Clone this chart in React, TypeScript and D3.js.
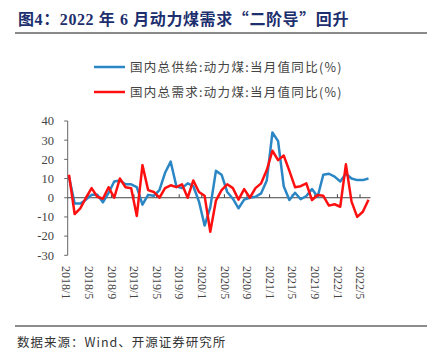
import React from "react";
import * as d3 from "d3";

const months = [
  "2018/1","2018/2","2018/3","2018/4","2018/5","2018/6","2018/7","2018/8","2018/9","2018/10","2018/11","2018/12",
  "2019/1","2019/2","2019/3","2019/4","2019/5","2019/6","2019/7","2019/8","2019/9","2019/10","2019/11","2019/12",
  "2020/1","2020/2","2020/3","2020/4","2020/5","2020/6","2020/7","2020/8","2020/9","2020/10","2020/11","2020/12",
  "2021/1","2021/2","2021/3","2021/4","2021/5","2021/6","2021/7","2021/8","2021/9","2021/10","2021/11","2021/12",
  "2022/1","2022/2","2022/3","2022/4","2022/5","2022/6",
];

const supply = [
  11, -3, -3, -1, 1.5, 1.5, -2.4, 2.5, 8.5, 9, 7, 7,
  5.5, -3.6, 1.5, 1, 4, 13, 18.8, 6, 5, 7.5, 6, -2,
  -14.5, -5, 14, 12, 3, -0.5, -5.5, -1, 0, 0.5, 2.3, 9,
  34, 29.5, 6, -1.2, 2.6, -0.8, 0.9, 4.5, 0.5, 12, 12.5, 11,
  8.5, 12.5, 10, 9.2, 9.2, 10,
];

const demand = [
  12, -8.5, -5.5, 0, 5, 0.5, -0.5, 5.5, 0, 10, 5.5, 5,
  -9.5, 17, 4, 3, 0, 5, 6.5, 5.5, 7, 0, 9, 3,
  1, -17.7, -1.5, 4, 7, 5, -1, 4.5, 0, 5, 7.5, 14.4,
  24.5, 19.6, 22, 14, 5.5, 6, 7.5, -1.2, 1.4, 1, -4.1, -3.4,
  -4.7, 17.4, -2, -10, -7.3, -1,
];

const xTickLabels = [
  "2018/1","2018/5","2018/9","2019/1","2019/5","2019/9","2020/1",
  "2020/5","2020/9","2021/1","2021/5","2021/9","2022/1","2022/5",
];
const yTicks = [40, 30, 20, 10, 0, -10, -20, -30];

const seriesNames = [
  "国内总供给:动力煤:当月值同比(%)",
  "国内总需求:动力煤:当月值同比(%)",
];
const BLUE = "#2a86c4";
const RED = "#ff1010";

export default function App() {
  const W = 433, H = 355;
  const x = d3.scaleLinear().domain([0, months.length - 1]).range([69, 368.5]);
  const y = d3.scaleLinear().domain([-30, 40]).range([255.3, 121]);
  const axisX = 67.7;
  const line = d3
    .line<number>()
    .x((_, i) => x(i))
    .y((d) => y(d));
  const serif = "'Liberation Serif', 'Noto Sans CJK SC', serif";
  const cjk = "'Noto Sans CJK SC', 'Liberation Serif', serif";

  return (
    <svg
      width={W}
      height={H}
      style={{ position: "absolute", left: 0, top: 0, background: "#fff" }}
    >
      <rect x={0} y={0} width={W} height={H} fill="#fff" />
      {/* title */}
      <text
        x={18}
        y={25}
        fontFamily={serif}
        fontWeight="bold"
        fontSize={16}
        fill="#1d2f6e"
        letterSpacing={0.6}
      >
        图4：2022 年 6 月动力煤需求<tspan fontFamily={cjk}>“</tspan>二阶导<tspan fontFamily={cjk}>”</tspan>回升
      </text>
      <line x1={15} x2={427} y1={33} y2={33} stroke="#8a8a8a" strokeWidth={2} />

      {/* legend */}
      {seriesNames.map((n, k) => (
        <g key={n}>
          <line
            x1={94}
            x2={125}
            y1={67 + k * 25}
            y2={67 + k * 25}
            stroke={k === 0 ? BLUE : RED}
            strokeWidth={2.5}
          />
          <text
            x={130}
            y={67 + k * 25}
            dy="0.36em"
            fontFamily={cjk}
            fontSize={12.5}
            fill="#444"
            letterSpacing={1.3}
          >
            {n}
          </text>
        </g>
      ))}

      {/* y axis */}
      <line x1={axisX} x2={axisX} y1={y(-30)} y2={y(40)} stroke="#666" strokeWidth={1} />
      {yTicks.map((t) => (
        <g key={t}>
          <line x1={axisX - 3.5} x2={axisX} y1={y(t)} y2={y(t)} stroke="#666" strokeWidth={1} />
          <text
            x={54}
            y={y(t)}
            dy="0.35em"
            textAnchor="end"
            fontFamily={serif}
            fontSize={12.5}
            fill="#444"
          >
            {t}
          </text>
        </g>
      ))}

      {/* zero line */}
      <line x1={axisX} x2={370.5} y1={y(0)} y2={y(0)} stroke="#444" strokeWidth={1} />
      {xTickLabels.map((lab) => {
        const i = months.indexOf(lab);
        if (i <= 0) return null;
        const tx = x(i - 0.5);
        return (
          <line key={"t" + lab} x1={tx} x2={tx} y1={y(0)} y2={y(0) - 3.5} stroke="#444" strokeWidth={1} />
        );
      })}

      {/* series */}
      <path d={line(supply) || ""} fill="none" stroke={BLUE} strokeWidth={2.5} strokeLinejoin="round" />
      <path d={line(demand) || ""} fill="none" stroke={RED} strokeWidth={2.5} strokeLinejoin="round" />

      {/* x labels */}
      {xTickLabels.map((lab) => {
        const i = months.indexOf(lab);
        const lx = x(i) - 2.5;
        return (
          <text
            key={lab}
            transform={`translate(${lx},266) rotate(90)`}
            dy="0.35em"
            fontFamily={serif}
            fontSize={12}
            fill="#444"
          >
            {lab}
          </text>
        );
      })}

      {/* footer */}
      <line x1={15} x2={427} y1={326} y2={326} stroke="#666" strokeWidth={1.5} />
      <text
        x={17}
        y={343}
        dy="0.35em"
        fontFamily={cjk}
        fontSize={12.5}
        fill="#333"
        letterSpacing={1}
      >
        数据来源：Wind、开源证券研究所
      </text>
    </svg>
  );
}
